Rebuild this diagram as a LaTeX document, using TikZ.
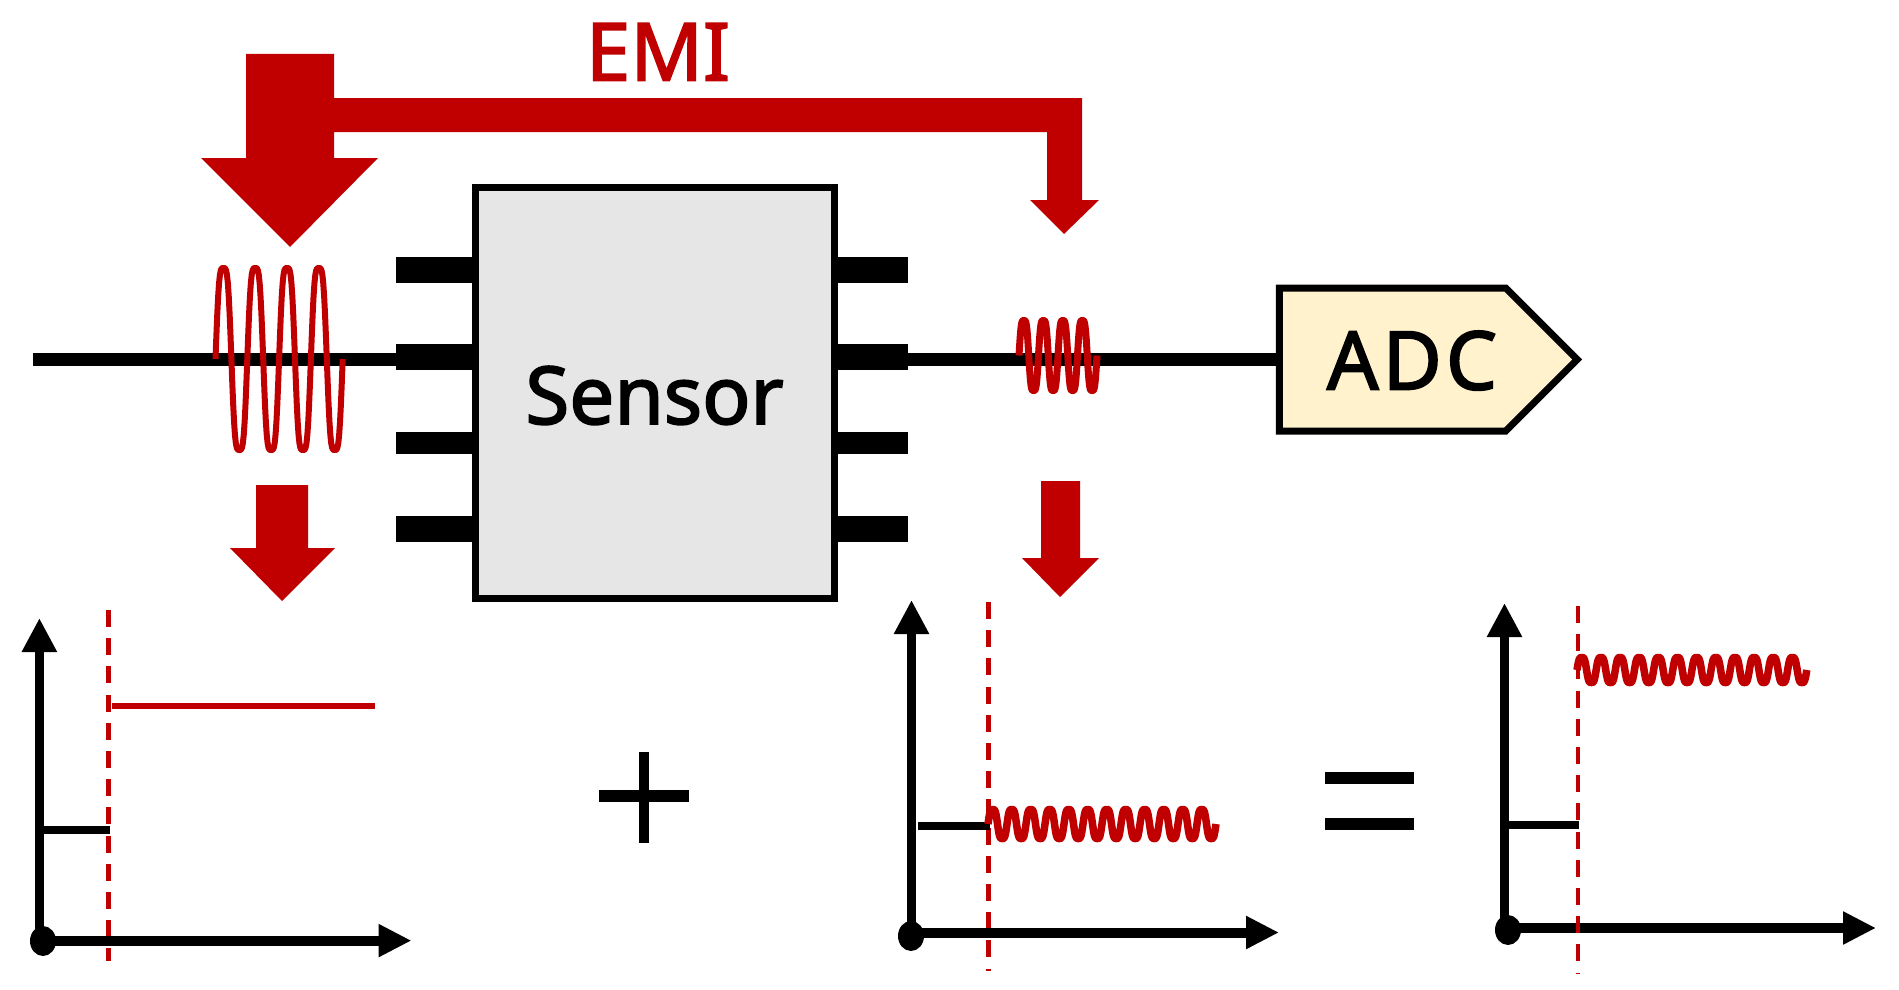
\documentclass[tikz,border=0pt]{standalone}
\usepackage{fontspec}
\setmainfont{Noto Sans}[FakeBold=2.2]
\usetikzlibrary{arrows.meta,shapes.symbols,shapes.geometric}
\definecolor{emi}{HTML}{C00000}
\definecolor{chipfill}{HTML}{E6E6E6}
\definecolor{adcfill}{HTML}{FFF2CC}
\newcommand\emiwave[6]{\draw[emi,line width=#6pt,line join=round]
  plot[domain=0:360*#3,samples=#3*36+1] ({#1+\x/360*#2},{#4-#5*1.125*(sin(\x)+sin(3*\x)/9)});}
\tikzset{
  chipbox/.style={draw=black,fill=chipfill,line width=7pt,minimum width=359pt,minimum height=411pt,inner sep=0pt,
    font=\fontsize{80}{96}\selectfont,text height=62pt,text depth=0pt},
  adcbox/.style={signal,signal to=east,signal from=nowhere,signal pointer angle=90,draw=black,fill=adcfill,
    line width=7pt,minimum width=298pt,minimum height=143pt,inner sep=0pt,
    font=\fontsize{81}{96}\selectfont\addfontfeature{LetterSpace=5},text height=60pt,text depth=0pt},
  pinbar/.style={fill=black,inner sep=0pt,minimum width=#1},
  wire/.style={line width=13pt},
  yaxisline/.style={line width=9pt,-{Triangle[length=34pt,width=33pt]}},
  xaxisline/.style={line width=10pt,-{Triangle[length=33pt,width=31pt]}},
  dashline/.style={emi,line width=#1,dash pattern=on 17pt off 11.2pt},
  stepline/.style={line width=8pt},
  blockarrow/.style={fill=emi},
  origindot/.style={ellipse,fill=black,inner sep=0pt,minimum width=26pt,minimum height=30pt},
  opbar/.style={line width=12pt},
  opstem/.style={line width=10pt}
}
\begin{document}
\begin{tikzpicture}[x=1pt,y=-1pt]
\useasboundingbox (0,0) rectangle (1899,990);
% EMI block arrows
\fill[blockarrow] (246,54) -- (334,54) -- (334,98) -- (1082,98) -- (1082,200) -- (1099,200) -- (1064,234)
  -- (1030,200) -- (1047,200) -- (1047,132) -- (334,132) -- (334,158) -- (378,158) -- (290,247) -- (201,158) -- (246,158) -- cycle;
\node[text=emi,font=\fontsize{80}{96}\selectfont,anchor=base] (emilabel) at (658,80.5) {EMI};
\fill[blockarrow] (256,485) -- (308,485) -- (308,548) -- (335,548) -- (282,601) -- (230,548) -- (256,548) -- cycle;
\fill[blockarrow] (1041,481) -- (1080,481) -- (1080,558) -- (1099,558) -- (1060,597) -- (1022,558) -- (1041,558) -- cycle;
% Pins
\foreach \n/\y/\h in {1/270/26,2/357/26,3/443/22,4/529/26}{
  \node[pinbar=76pt,minimum height=\h pt] (pinL\n) at (434,\y) {};
  \node[pinbar=71pt,minimum height=\h pt] (pinR\n) at (872.5,\y) {};
}
% Chip and ADC
\node[chipbox] (sensor) at (654.5,393) {Sensor};
\node[adcbox] (adc) at (1392.5,359.5) {\hspace*{39pt}ADC};
\coordinate (wirestart) at (33,359.5);
\draw[wire] (wirestart) -- (wirestart -| pinL2.west);
\draw[wire] (pinR2.east |- adc.west) -- (adc.west);
% Coils
\emiwave{215.5}{31.8}{4}{359}{91}{6}
\emiwave{1019}{19.5}{4}{355.5}{35}{7}
% Plot 1
\coordinate (o1) at (43,941);
\coordinate (y1) at (39.4,618);
\coordinate (x1) at (411.5,940.6);
\draw[dashline=5pt] (108.5,610) -- (108.5,961);
\draw[yaxisline] (y1 |- o1) -- (y1);
\draw[xaxisline] (o1 |- x1) -- (x1);
\node[origindot] (dot1) at (o1) {};
\draw[stepline] (39.4,829.6) -- (110,829.6);
\draw[emi,line width=6.5pt] (112,706) -- (375,706);
% Plus
\draw[opstem] (644,752.4) -- (644,843.4);
\draw[opbar] (599.4,796) -- (688.5,796);
% Plot 2
\coordinate (o2) at (911,936);
\coordinate (y2) at (911.5,600);
\coordinate (x2) at (1279,932.5);
\draw[dashline=5pt] (988,602) -- (988,971);
\draw[yaxisline] (y2 |- o2) -- (y2);
\draw[xaxisline] (o2 |- x2) -- (x2);
\node[origindot] (dot2) at (o2) {};
\draw[stepline] (917.6,825.5) -- (990,825.5);
\emiwave{988}{19}{12}{824}{14.5}{7.5}
% Equals
\draw[opbar] (1325.3,777.5) -- (1414.3,777.5);
\draw[opbar] (1325.3,824) -- (1414.3,824);
% Plot 3
\coordinate (o3) at (1508,930);
\coordinate (y3) at (1504.5,603);
\coordinate (x3) at (1876,928);
\draw[yaxisline] (y3 |- o3) -- (y3);
\draw[xaxisline] (o3 |- x3) -- (x3);
\draw[dashline=4pt] (1578,606) -- (1578,973);
\node[origindot] (dot3) at (o3) {};
\draw[stepline] (1504.5,825) -- (1579,825);
\emiwave{1577}{19.15}{12}{670}{12.5}{7.5}
\end{tikzpicture}
\end{document}
